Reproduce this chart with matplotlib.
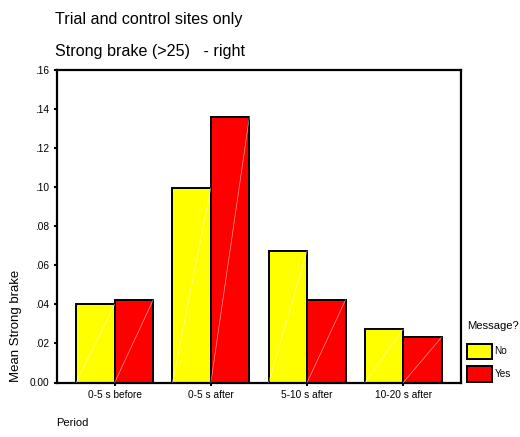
import numpy as np
import matplotlib
matplotlib.use('Agg')
from matplotlib import pyplot as plt

plt.rcParams['font.family'] = ['Liberation Sans', 'DejaVu Sans']

periods = ['0-5 s before', '0-5 s after', '5-10 s after', '10-20 s after']
no_msg = [0.040, 0.0997, 0.0674, 0.0273]
yes_msg = [0.0423, 0.136, 0.0423, 0.0233]
y_ticks = [0.00, 0.02, 0.04, 0.06, 0.08, 0.10, 0.12, 0.14, 0.16]
y_tick_labels = ['0.00', '.02', '.04', '.06', '.08', '.10', '.12', '.14', '.16']

fig = plt.figure(figsize=(5.2, 4.37), dpi=100)
ax = fig.add_axes([57 / 520, 1 - 382.5 / 437, 404 / 520, 312.5 / 437])

x = np.arange(len(periods))
w = 0.4
bars_no = ax.bar(x - w / 2, no_msg, w, color='#FFFF00', edgecolor='black',
                 linewidth=1.4, label='No', zorder=2)
bars_yes = ax.bar(x + w / 2, yes_msg, w, color='#FF0000', edgecolor='black',
                  linewidth=1.4, label='Yes', zorder=2)

# faint diagonal line inside each bar
for b in list(bars_no) + list(bars_yes):
    x0, h, bw = b.get_x(), b.get_height(), b.get_width()
    ax.plot([x0, x0 + bw], [0, h], color='white', lw=0.5, alpha=0.6, zorder=3)

ax.set_xlim(-0.6, 3.6)
ax.set_ylim(0, 0.16)
ax.set_xticks(x)
ax.set_xticklabels(periods, fontsize=7.3)
ax.set_yticks(y_ticks)
ax.set_yticklabels(y_tick_labels, fontsize=7.3)
ax.tick_params(axis='both', direction='out', length=2.5, width=1.5, pad=3)

for s in ax.spines.values():
    s.set_linewidth(1.6)

ax.set_ylabel('Mean Strong brake', fontsize=9.5, loc='bottom')
ax.yaxis.set_label_coords(-0.0866, 0)
ax.set_xlabel('Period', fontsize=8, loc='left')
ax.xaxis.set_label_coords(-0.002, -0.115)

fig.text(55 / 520, 1 - 24 / 437, 'Trial and control sites only', fontsize=11.6, va='baseline')
fig.text(55 / 520, 1 - 56 / 437, 'Strong brake (>25)   - right', fontsize=11.6, va='baseline')

leg = ax.legend(title='Message?', loc='upper left', bbox_to_anchor=(467 / 520, 1 - 321 / 437),
                bbox_transform=fig.transFigure, frameon=False, fontsize=7.2,
                title_fontsize=8.1, handlelength=2.45, handleheight=2.0,
                labelspacing=0.75, handletextpad=0.3, borderpad=0, borderaxespad=0)
leg._legend_box.align = 'left'
leg._legend_box.sep = 9

fig.savefig('out.png', dpi=100)
